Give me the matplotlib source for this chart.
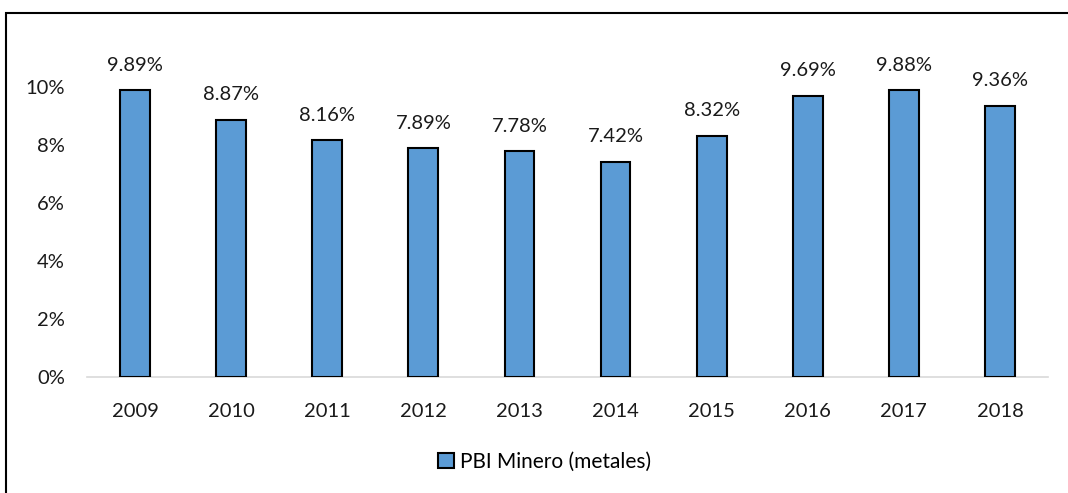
import matplotlib
matplotlib.use("Agg")
import matplotlib.pyplot as plt
from matplotlib.patches import Rectangle
from matplotlib.ticker import FuncFormatter

years = ["2009", "2010", "2011", "2012", "2013", "2014", "2015", "2016", "2017", "2018"]
values = [9.89, 8.87, 8.16, 7.89, 7.78, 7.42, 8.32, 9.69, 9.88, 9.36]
series_name = "PBI Minero (metales)"
yticks = [0, 2, 4, 6, 8, 10]

plt.rcParams['font.family'] = ['Lato', 'DejaVu Sans']
FS = 14.5

fig = plt.figure(figsize=(10.68, 4.93), dpi=100)
fig.patches.append(Rectangle((6/1068, -0.1), 1.2, 1 - 13/493 + 0.1, transform=fig.transFigure,
                             fill=False, edgecolor='black', linewidth=1.5, zorder=0))
ax = fig.add_axes([87/1068, 1 - 377/493, (1048 - 87)/1068, (377 - 29)/493])

x = range(len(years))
bars = ax.bar(x, values, width=0.31, color='#5B9BD5', edgecolor='black', linewidth=1.5,
              label=series_name, zorder=3)
for xi, v in zip(x, values):
    ax.annotate(f"{v:.2f}%", (xi, v), xytext=(0, 12), textcoords='offset points',
                ha='center', va='bottom', fontsize=FS, color='#1a1a1a')

ax.set_xlim(-0.5, len(years) - 0.5)
ax.set_ylim(0, 12)
ax.set_yticks(yticks)
ax.yaxis.set_major_formatter(FuncFormatter(lambda v, p: f"{v:.0f}%"))
ax.set_xticks(list(x))
ax.set_xticklabels(years)
ax.tick_params(axis='both', length=0, labelsize=FS, colors='#1a1a1a')
ax.tick_params(axis='x', pad=19)
ax.tick_params(axis='y', pad=16)
for s in ['top', 'right', 'left']:
    ax.spines[s].set_visible(False)
ax.spines['bottom'].set_color('#D9D9D9')
ax.spines['bottom'].set_linewidth(1.2)

fig.legend(handles=[bars], labels=[series_name], loc='center', bbox_to_anchor=(545/1068, 1 - 462/493),
           frameon=False, fontsize=15, handlelength=0.75, handleheight=0.75, handletextpad=0.3)

fig.savefig("out.png", dpi=100)
